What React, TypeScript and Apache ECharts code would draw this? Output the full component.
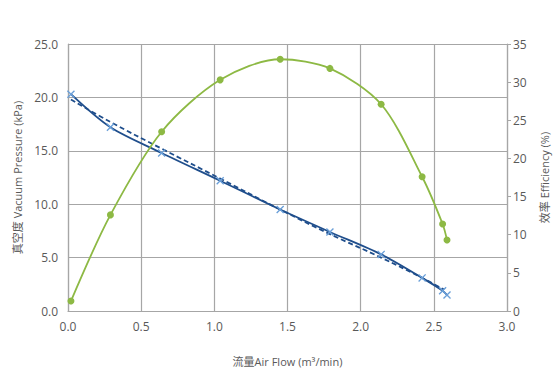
import React, { useEffect, useRef } from "react";
import * as echarts from "echarts";

const flow = [0.02, 0.29, 0.64, 1.04, 1.45, 1.79, 2.14, 2.42, 2.56, 2.59];
const vacuum = [20.3, 17.2, 14.8, 12.2, 9.5, 7.4, 5.3, 3.1, 1.9, 1.5];
const efficiency = [1.3, 12.6, 23.5, 30.3, 33.0, 31.8, 27.1, 17.6, 11.4, 9.3];
const trendFlow = [0.02, 0.29, 0.64, 1.04, 1.45, 1.79, 2.14, 2.42, 2.57];
const trendVacuum = [19.8, 17.7, 15.2, 12.4, 9.5, 7.2, 5.0, 3.1, 2.0];

const xTicks = [0, 0.5, 1.0, 1.5, 2.0, 2.5, 3.0];

const FONT = "'Open Sans', 'Noto Sans CJK SC', sans-serif";
const LABEL = "#595959";
const GRID = "#a6a6a6";
const CROSS = "path://M0,1.2L1.2,0L5,3.8L8.8,0L10,1.2L6.2,5L10,8.8L8.8,10L5,6.2L1.2,10L0,8.8L3.8,5Z";

export default function App() {
  const ref = useRef<HTMLDivElement>(null);
  useEffect(() => {
    const chart = echarts.init(ref.current!, null, { renderer: "svg" });
    chart.setOption({
      animation: false,
      grid: { left: 68, right: 53, top: 44, bottom: 63, containLabel: false },
      xAxis: {
        type: "value",
        min: xTicks[0],
        max: xTicks[xTicks.length - 1],
        interval: 0.5,
        name: "流量Air Flow (m³/min)",
        nameLocation: "middle",
        nameGap: 45,
        nameTextStyle: { color: LABEL, fontFamily: FONT, fontSize: 11 },
        axisLine: { show: true, lineStyle: { color: GRID, width: 1.2 } },
        axisTick: { show: false },
        axisLabel: { color: LABEL, fontFamily: FONT, fontSize: 12, margin: 9, formatter: (v: number) => v.toFixed(1) },
        splitLine: { show: true, lineStyle: { color: GRID, width: 1.2 } },
      },
      yAxis: [
        {
          type: "value",
          min: 0,
          max: 25,
          interval: 5,
          name: "真空度 Vacuum Pressure (kPa)",
          nameLocation: "middle",
          nameRotate: 90,
          nameGap: 44,
          nameTextStyle: { color: LABEL, fontFamily: FONT, fontSize: 11 },
          axisLine: { show: true, lineStyle: { color: GRID, width: 1.2 } },
          axisTick: { show: false },
          axisLabel: { color: LABEL, fontFamily: FONT, fontSize: 12, margin: 10, formatter: (v: number) => v.toFixed(1) },
          splitLine: { show: true, lineStyle: { color: GRID, width: 1.2 } },
        },
        {
          type: "value",
          min: 0,
          max: 35,
          interval: 5,
          position: "right",
          name: "效率 Efficiency (%)",
          nameLocation: "middle",
          nameRotate: 90,
          nameGap: 32,
          nameTextStyle: { color: LABEL, fontFamily: FONT, fontSize: 11 },
          axisLine: { show: true, lineStyle: { color: GRID, width: 1.2 } },
          axisTick: { show: true, length: 4, lineStyle: { color: GRID } },
          axisLabel: { color: LABEL, fontFamily: FONT, fontSize: 12, margin: 6 },
          splitLine: { show: false },
        },
      ],
      series: [
        {
          type: "line",
          name: "trend",
          data: trendFlow.map((x, i) => [x, trendVacuum[i]]),
          smooth: 0.4,
          symbol: "none",
          lineStyle: { color: "#1F4E8C", width: 1.8, type: [5, 3] },
          z: 2,
        },
        {
          type: "line",
          name: "vacuum",
          data: flow.map((x, i) => [x, vacuum[i]]),
          smooth: 0.3,
          symbol: CROSS,
          symbolSize: 8,
          itemStyle: { color: "#6A9FD8" },
          lineStyle: { color: "#1F4E8C", width: 1.8 },
          z: 3,
        },
        {
          type: "line",
          name: "efficiency",
          yAxisIndex: 1,
          data: flow.map((x, i) => [x, efficiency[i]]),
          smooth: 0.3,
          symbol: "circle",
          symbolSize: 7,
          itemStyle: { color: "#8DB944" },
          lineStyle: { color: "#8DB944", width: 1.8 },
          z: 4,
        },
      ],
    });
    return () => chart.dispose();
  }, []);
  return <div ref={ref} style={{ width: 560, height: 374, position: "absolute", left: 0, top: 0, background: "#fff" }} />;
}
